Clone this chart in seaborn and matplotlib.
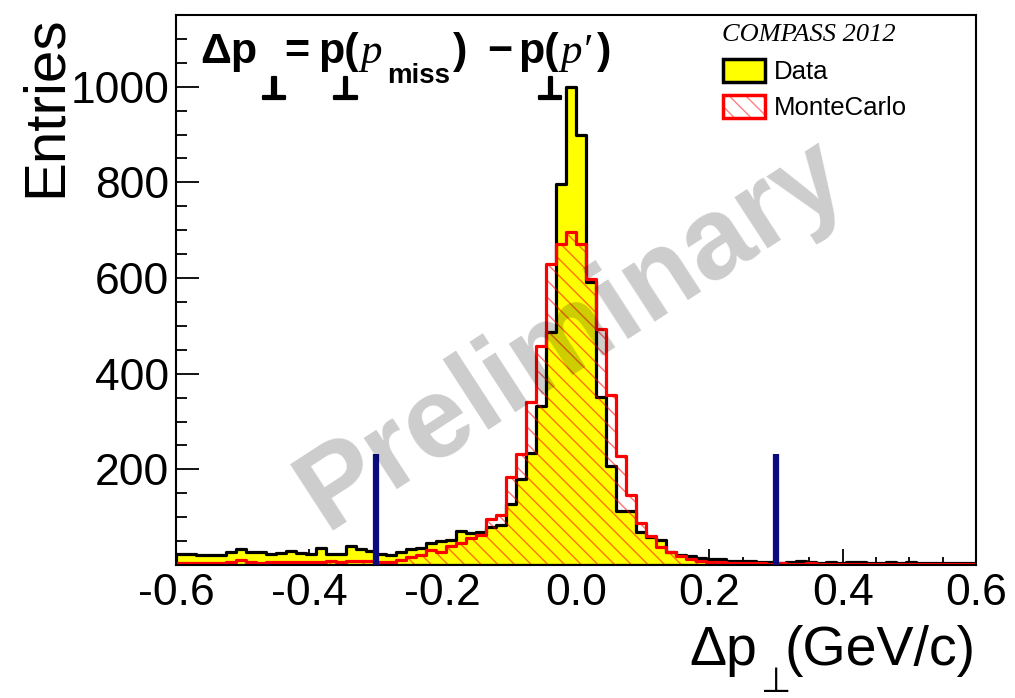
import matplotlib
matplotlib.use("Agg")
import matplotlib.pyplot as plt
import matplotlib.patheffects as pe
from matplotlib.patches import Patch
from matplotlib.ticker import MultipleLocator, FormatStrFormatter
import numpy as np
import pandas as pd
import seaborn as sns

# binning of the histograms (80 bins of 15 MeV/c)
x_min, x_max, n_bins = -0.6, 0.6, 80

# entries per bin
data_counts = [24, 24, 20, 20, 21, 27, 33, 27, 27, 24,
               26, 30, 26, 24, 36, 24, 24, 40, 33, 30,
               24, 22, 28, 34, 36, 47, 50, 52, 72, 68,
               70, 80, 84, 128, 180, 234, 332, 487, 796, 1000,
               900, 592, 352, 207, 114, 112, 70, 58, 52, 28,
               22, 19, 15, 12, 12, 9, 8, 8, 6, 7,
               5, 6, 8, 7, 5, 6, 5, 6, 7, 5,
               4, 6, 5, 6, 5, 4, 5, 5, 4, 4]
mc_counts = [5, 4, 4, 5, 5, 6, 11, 6, 5, 6,
             6, 7, 6, 6, 7, 8, 7, 8, 9, 9,
             6, 7, 11, 17, 22, 31, 28, 39, 46, 57,
             62, 97, 104, 184, 233, 341, 458, 629, 672, 696,
             672, 598, 493, 355, 229, 146, 88, 60, 38, 27,
             18, 13, 9, 7, 6, 5, 4, 4, 4, 3,
             4, 3, 3, 4, 3, 3, 3, 3, 3, 2,
             3, 3, 2, 2, 3, 2, 2, 2, 2, 2]
cut_values = [-0.3, 0.3]
cut_height = 233
y_ticks = [200, 400, 600, 800, 1000]

sns.set_style("white")
plt.rcParams['font.family'] = ['Liberation Sans', 'DejaVu Sans']
plt.rcParams['axes.unicode_minus'] = False
plt.rcParams['hatch.linewidth'] = 1.0
for key in ['text.color', 'axes.labelcolor', 'xtick.color', 'ytick.color']:
    plt.rcParams[key] = 'black'

edges = np.linspace(x_min, x_max, n_bins + 1).tolist()
centers = [0.5 * (a + b) for a, b in zip(edges[:-1], edges[1:])]
df = pd.DataFrame({'dpt': centers, 'data': data_counts, 'mc': mc_counts})

fig = plt.figure(figsize=(10.15, 6.98), dpi=100)
ax = fig.add_axes([0.1734, 0.1905, 0.7882, 0.788])

# data: yellow filled, black outline
sns.histplot(data=df, x='dpt', weights='data', bins=edges, element='step', fill=True,
             color='yellow', edgecolor='black', linewidth=2.3, alpha=1, ax=ax)
# monte carlo: red hatching + red outline
sns.histplot(data=df, x='dpt', weights='mc', bins=edges, element='step', fill=True,
             color='red', facecolor='none', edgecolor=(1, 0, 0, 0.55), linewidth=0,
             hatch='\\\\', ax=ax)
sns.histplot(data=df, x='dpt', weights='mc', bins=edges, element='step', fill=False,
             color='red', linewidth=2.3, ax=ax)

# cut lines
ax.vlines(cut_values, 0, cut_height, color='#0b0b80', linewidth=4.5, zorder=3)

ax.set_xlim(x_min, x_max)
ax.set_ylim(0, 1150)

ax.xaxis.set_major_locator(MultipleLocator(0.2))
ax.xaxis.set_minor_locator(MultipleLocator(0.05))
ax.xaxis.set_major_formatter(FormatStrFormatter('%.1f'))
ax.set_yticks(y_ticks)
ax.yaxis.set_minor_locator(MultipleLocator(50))
ax.tick_params(axis='both', which='both', direction='in', bottom=True, left=True,
               top=False, right=False, labelsize=32, width=1.3, color='black')
ax.tick_params(axis='x', which='major', length=11.5, pad=6)
ax.tick_params(axis='x', which='minor', length=5.8)
ax.tick_params(axis='y', which='major', length=16.5, pad=5)
ax.tick_params(axis='y', which='minor', length=8)
for s in ax.spines.values():
    s.set_color('black')
    s.set_linewidth(1.5)

ax.set_xlabel('')
ax.set_ylabel('Entries', fontsize=42, loc='top', labelpad=-2)


def px_x(p):
    # pixel column -> axes fraction
    return (p - 176) / 800


def px_y(p):
    # pixel row -> axes fraction
    return (564.7 - p) / 549.7


def after(prev, s, frac, row, dx, **kw):
    # put a piece of text right of (a fraction of) the previous one
    return ax.annotate(s, xy=(frac, px_y(row)), xycoords=(prev, 'axes fraction'),
                       xytext=(dx, 0), textcoords='offset pixels',
                       ha='left', va='baseline', **kw)


bold = dict(fontsize=31, fontweight='bold')
ital = dict(fontsize=31, family=['Liberation Serif', 'DejaVu Serif'], style='italic')
perp = dict(fontsize=22, path_effects=[pe.withStroke(linewidth=1.6, foreground='black')])
PERP = r'$\mathbf{⊥}$'

# title, ROOT style with the big perp below the line
t = ax.text(px_x(200), px_y(63), 'Δp', transform=ax.transAxes, ha='left', va='baseline', **bold)
after(t, PERP, 1.0, 99, 3, **perp)
t = after(t, '=', 1.0, 63, 27, **bold)
t = after(t, 'p(', 1.0, 63, 9, **bold)
after(t, PERP, 0.33, 99, 0, **perp)
t = after(t, 'p', 1.0, 63, 2, **ital)
t = after(t, 'miss', 1.0, 83, 5, fontsize=20, fontweight='bold')
t = after(t, ')', 1.0, 63, 3, **bold)
t = after(t, '−', 1.0, 63, 19, **bold)
t = after(t, 'p(', 1.0, 63, 6, **bold)
after(t, PERP, 0.45, 99, 0, **perp)
t = after(t, 'p′', 1.0, 63, 2, **ital)
t = after(t, ')', 1.0, 63, 6, **bold)

# x axis title
t = ax.text(1.0, px_y(665), '(GeV/c)', transform=ax.transAxes, ha='right', va='baseline', fontsize=40)
ax.text(px_x(757), px_y(665), 'Δp', transform=ax.transAxes, ha='right', va='baseline', fontsize=40)
ax.text(px_x(761), px_y(692), '⊥', transform=ax.transAxes, ha='left', va='baseline',
        fontsize=25, family='DejaVu Sans')

ax.text(0.495, 0.418, 'Preliminary', transform=ax.transAxes, rotation=33,
        rotation_mode='anchor', ha='center', va='center', fontsize=83,
        fontweight='bold', color='black', alpha=0.2, zorder=5)

ax.text(px_x(722), px_y(41), 'COMPASS 2012', transform=ax.transAxes, ha='left', va='baseline',
        fontsize=19, family='Liberation Serif', style='italic')

data_patch = Patch(facecolor='yellow', edgecolor='black', linewidth=2.5)
mc_hatch = Patch(facecolor='white', edgecolor=(1, 0, 0, 0.5), linewidth=0, hatch='\\\\')
mc_line = Patch(facecolor='none', edgecolor='red', linewidth=2.5)
leg = ax.legend([data_patch, (mc_hatch, mc_line)], ['Data', 'MonteCarlo'],
                loc='upper left', bbox_to_anchor=(px_x(723), px_y(59)), frameon=False,
                fontsize=18.5, handlelength=1.63, handleheight=1.0, handletextpad=0.35,
                labelspacing=0.41, borderpad=0, borderaxespad=0)

fig.savefig('out.png', dpi=100)
